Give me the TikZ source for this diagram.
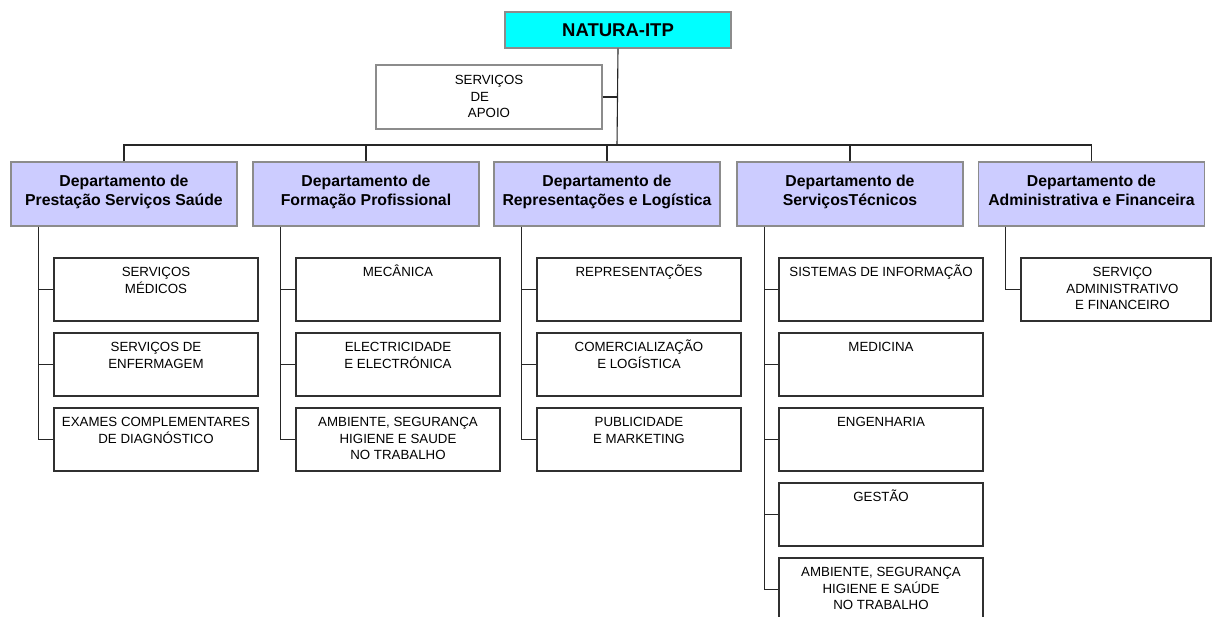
\documentclass[tikz,border=0pt]{standalone}
\usepackage{fontspec}
\setmainfont{Liberation Sans}
\definecolor{lav}{HTML}{CCCCFF}
\definecolor{cyanb}{HTML}{00FFFF}
\definecolor{grayb}{HTML}{8C8C8C}
\definecolor{darkb}{HTML}{303030}
\begin{document}
\begin{tikzpicture}[x=1pt,y=-1pt,
  titlebox/.style={draw=grayb,line width=1.2pt,fill=cyanb,minimum width=226pt,minimum height=36pt,inner sep=0pt,font=\fontsize{18.5}{22}\selectfont\bfseries},
  apoiobox/.style={draw=grayb,line width=1.2pt,fill=white,minimum width=226pt,minimum height=64pt,inner sep=0pt},
  deptbox/.style={draw=grayb,line width=1.2pt,fill=lav,minimum width=226pt,minimum height=64pt,inner sep=0pt},
  depttxt/.style={anchor=base,inner sep=0pt,align=center,font=\fontsize{15.8}{19.3}\selectfont\bfseries},
  subbox/.style={draw=darkb,line width=1.2pt,fill=white,minimum width=204pt,minimum height=63pt,inner sep=0pt},
  subtxt/.style={anchor=base,inner sep=0pt,align=center,font=\fontsize{13.3}{16.7}\selectfont},
  conn/.style={draw=black!85,line width=1.1pt}
]
\useasboundingbox (0,0) rectangle (1212,617);
\clip (0,0) rectangle (1212,617);
\fill[white] (0,0) rectangle (1212,617);

% top
\node[titlebox] (top) at (618,30) {NATURA-ITP};
\node[apoiobox] (apoio) at (489,97) {};
\node[subtxt] (apoiot) at ([yshift=-53.5pt]apoio.north) {SERVIÇOS\\DE\phantom{DE}\\APOIO};

% departments
\node[deptbox] (d1) at (124,194) {};
\node[deptbox] (d2) at (366,194) {};
\node[deptbox] (d3) at (607,194) {};
\node[deptbox] (d4) at (850,194) {};
\node[deptbox] (d5) at (1091.5,194) {};
\node[depttxt] (dt1) at ([yshift=-44pt]d1.north) {Departamento de\\Prestação Serviços Saúde};
\node[depttxt] (dt2) at ([yshift=-44pt]d2.north) {Departamento de\\Formação Profissional};
\node[depttxt] (dt3) at ([yshift=-44pt]d3.north) {Departamento de\\Representações e Logística};
\node[depttxt] (dt4) at ([yshift=-44pt]d4.north) {Departamento de\\ServiçosTécnicos};
\node[depttxt] (dt5) at ([yshift=-44pt]d5.north) {Departamento de\\Administrativa e Financeira};

% connectors top
\coordinate (bar) at (617,145);
\draw[conn] (top.south) -- (bar);
\draw[conn] (apoio.east) -- (apoio.east -| top.south);
\draw[conn] (d1.north) -- (d1.north |- bar) -- (d5.north |- bar) -- (d5.north);
\foreach \d in {d2,d3,d4}{\draw[conn] (\d.north) -- (\d.north |- bar);}

% sub boxes dept 1
\node[subbox] (s11) at (156,289.5) {};
\node[subbox] (s12) at (156,364.5) {};
\node[subbox] (s13) at (156,439.5) {};
\node[subtxt] (t11) at ([yshift=-35.7pt]s11.north) {SERVIÇOS\\MÉDICOS};
\node[subtxt] (t12) at ([yshift=-35.7pt]s12.north) {SERVIÇOS DE\\ENFERMAGEM};
\node[subtxt] (t13) at ([yshift=-35.7pt]s13.north) {EXAMES COMPLEMENTARES\\DE DIAGNÓSTICO};

% dept 2
\node[subbox] (s21) at (398,289.5) {};
\node[subbox] (s22) at (398,364.5) {};
\node[subbox] (s23) at (398,439.5) {};
\node[subtxt] (t21) at ([yshift=-19pt]s21.north) {MECÂNICA};
\node[subtxt] (t22) at ([yshift=-35.7pt]s22.north) {ELECTRICIDADE\\E ELECTRÓNICA};
\node[subtxt] (t23) at ([yshift=-52.4pt]s23.north) {AMBIENTE, SEGURANÇA\\HIGIENE E SAUDE\\NO TRABALHO};

% dept 3
\node[subbox] (s31) at (639,289.5) {};
\node[subbox] (s32) at (639,364.5) {};
\node[subbox] (s33) at (639,439.5) {};
\node[subtxt] (t31) at ([yshift=-19pt]s31.north) {REPRESENTAÇÕES};
\node[subtxt] (t32) at ([yshift=-35.7pt]s32.north) {COMERCIALIZAÇÃO\\E LOGÍSTICA};
\node[subtxt] (t33) at ([yshift=-35.7pt]s33.north) {PUBLICIDADE\\E MARKETING};

% dept 4
\node[subbox] (s41) at (881,289.5) {};
\node[subbox] (s42) at (881,364.5) {};
\node[subbox] (s43) at (881,439.5) {};
\node[subbox] (s44) at (881,514.5) {};
\node[subbox] (s45) at (881,589.5) {};
\node[subtxt] (t41) at ([yshift=-19pt]s41.north) {SISTEMAS DE INFORMAÇÃO};
\node[subtxt] (t42) at ([yshift=-19pt]s42.north) {MEDICINA};
\node[subtxt] (t43) at ([yshift=-19pt]s43.north) {ENGENHARIA};
\node[subtxt] (t44) at ([yshift=-19pt]s44.north) {GESTÃO};
\node[subtxt] (t45) at ([yshift=-52.4pt]s45.north) {AMBIENTE, SEGURANÇA\\HIGIENE E SAÚDE\\NO TRABALHO};

% dept 5
\node[subbox,minimum width=190pt] (s51) at (1116,289.5) {};
\node[subtxt] (t51) at ([yshift=-52.4pt]s51.north -| 1122.5,0) {SERVIÇO\\ADMINISTRATIVO\\E FINANCEIRO};

% trunks
\coordinate (k1) at ([xshift=28pt]d1.south west);
\coordinate (k2) at ([xshift=28pt]d2.south west);
\coordinate (k3) at ([xshift=28pt]d3.south west);
\coordinate (k4) at ([xshift=28pt]d4.south west);
\coordinate (k5) at ([xshift=28pt]d5.south west);
\draw[conn] (k1) |- (s13.west);
\draw[conn] (k1 |- s11.west) -- (s11.west);
\draw[conn] (k1 |- s12.west) -- (s12.west);
\draw[conn] (k2) |- (s23.west);
\draw[conn] (k2 |- s21.west) -- (s21.west);
\draw[conn] (k2 |- s22.west) -- (s22.west);
\draw[conn] (k3) |- (s33.west);
\draw[conn] (k3 |- s31.west) -- (s31.west);
\draw[conn] (k3 |- s32.west) -- (s32.west);
\draw[conn] (k4) |- (s45.west);
\draw[conn] (k4 |- s41.west) -- (s41.west);
\draw[conn] (k4 |- s42.west) -- (s42.west);
\draw[conn] (k4 |- s43.west) -- (s43.west);
\draw[conn] (k4 |- s44.west) -- (s44.west);
\draw[conn] (k5) |- (s51.west);
\end{tikzpicture}
\end{document}
